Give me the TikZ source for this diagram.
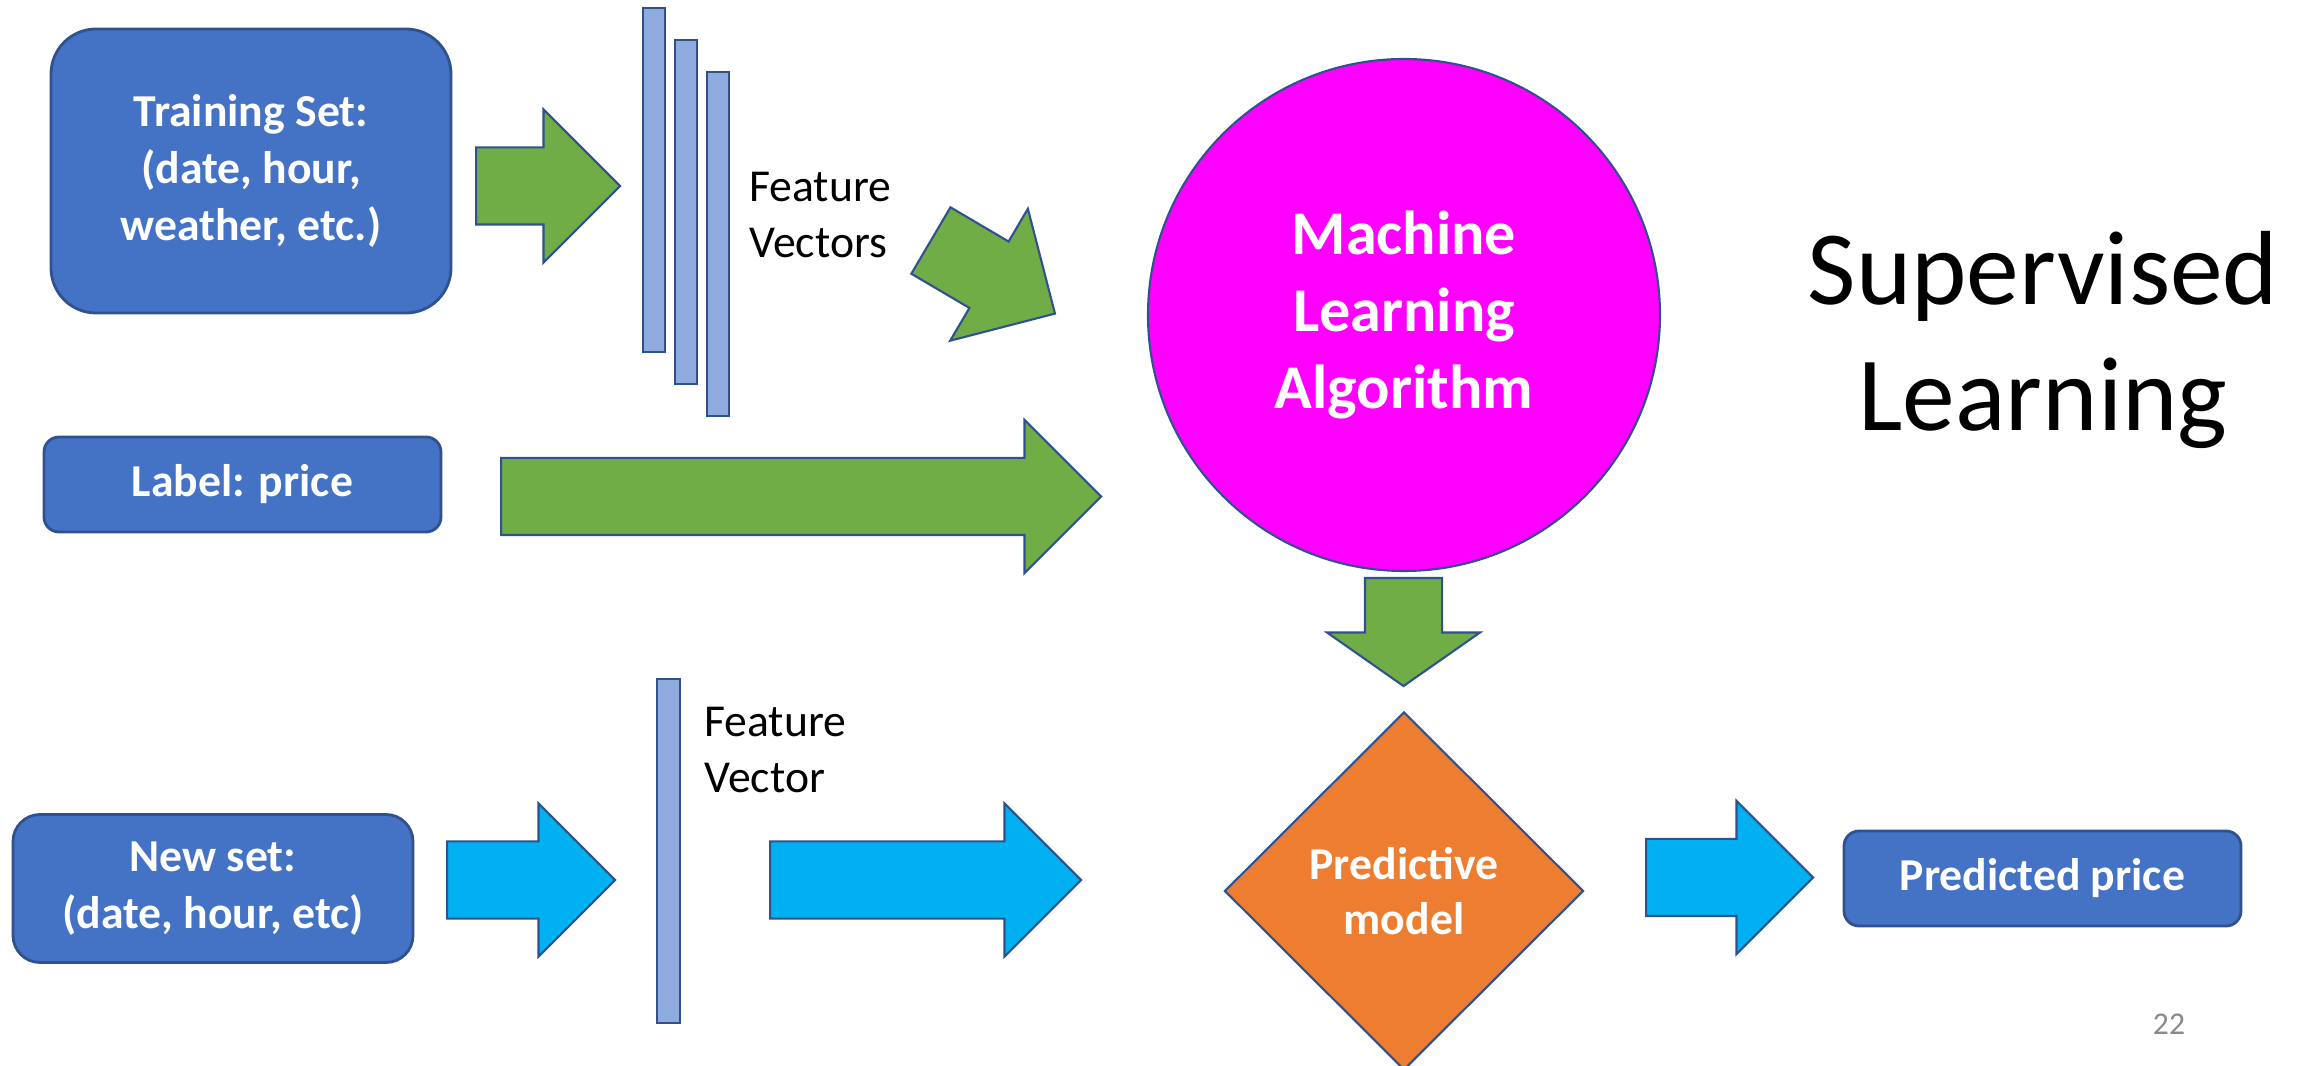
\documentclass[tikz,border=0pt]{standalone}
\usepackage{fontspec}
\setmainfont{Carlito}
\usepackage{xcolor}
\usetikzlibrary{shapes.geometric,shapes.arrows}

\definecolor{boxblue}{HTML}{4472C4}
\definecolor{edgeblue}{HTML}{2F528F}
\definecolor{barblue}{HTML}{8FAADC}
\definecolor{arrgreen}{HTML}{70AD47}
\definecolor{arrcyan}{HTML}{00B0F0}
\definecolor{mlpink}{HTML}{FF00FF}
\definecolor{modelorange}{HTML}{ED7D31}
\definecolor{pagegray}{HTML}{898989}

\begin{document}
\begin{tikzpicture}[
      databox/.style={rectangle, draw=edgeblue, line width=0.8pt, fill=boxblue, text=white, align=center, font=\fontsize{13}{16.2}\selectfont\bfseries},
      vecbar/.style={rectangle, draw=edgeblue, line width=0.8pt, fill=barblue, minimum width=0.22cm, inner sep=0pt},
      blockarrow/.style={single arrow, draw=edgeblue, line width=0.6pt, anchor=tail, inner xsep=0pt, inner ysep=0.375cm, single arrow head extend=0.38cm},
      greenarrow/.style={blockarrow, fill=arrgreen},
      cyanarrow/.style={blockarrow, fill=arrcyan},
      vectext/.style={anchor=west, align=left, font=\fontsize{13}{16.2}\selectfont}
    ]
      \useasboundingbox (0,0) rectangle (23.06,-10.66);

      % Training data
      \node[databox, rounded corners=0.45cm, minimum width=4cm, minimum height=2.84cm] (train) at (2.51,-1.71) {Training Set:\\(date, hour,\\weather, etc.)};
      \node[databox, rounded corners=0.15cm, minimum width=3.97cm, minimum height=0.95cm] (label) at (2.425,-4.845) {Label: price};

      % Feature vectors
      \node[vecbar, minimum height=3.44cm] (bar1) at (6.54,-1.80) {};
      \node[vecbar, minimum height=3.44cm] (bar2) at (6.86,-2.12) {};
      \node[vecbar, minimum height=3.44cm] (bar3) at (7.18,-2.44) {};
      \node[vectext] (vecs) at (7.37,-2.15) {Feature\\Vectors};

      % Learner
      \node[circle, draw=edgeblue, line width=0.6pt, fill=mlpink, minimum size=5.12cm, text=white, align=center, font=\fontsize{17.7}{21.8}\selectfont\bfseries] (mla) at (14.04,-3.15) {Machine\\Learning\\Algorithm};
      \node[align=center, font=\fontsize{30}{36}\selectfont] (title) at (20.43,-3.40) {Supervised\\Learning};

      % Training arrows
      \node[greenarrow, minimum height=1.44cm] (arrtrain) at (4.75,-1.86) {};
      \node[greenarrow, minimum height=1.44cm, rotate=-30.5] (arrvecs) at (9.30,-2.40) {};
      \node[greenarrow, minimum height=6cm] (arrlabel) at (5.00,-4.965) {};
      \node[greenarrow, minimum height=1.08cm, single arrow tip angle=110, rotate=-90] (arrmodel) at (14.035,-5.77) {};

      % Prediction
      \node[databox, rounded corners=0.27cm, minimum width=4cm, minimum height=1.48cm] (newset) at (2.13,-8.885) {New set:\\(date, hour, etc)};
      \node[vecbar, minimum width=0.23cm, minimum height=3.44cm] (bar4) at (6.685,-8.51) {};
      \node[vectext] (vec) at (6.92,-7.50) {Feature\\Vector};
      \node[diamond, draw=edgeblue, line width=0.6pt, fill=modelorange, minimum width=3.59cm, minimum height=3.58cm, inner sep=0pt, text=white, align=center, font=\fontsize{13}{15.8}\selectfont\bfseries] (model) at (14.04,-8.91) {Predictive\\model};
      \node[databox, rounded corners=0.15cm, minimum width=3.97cm, minimum height=0.95cm] (predicted) at (20.425,-8.785) {Predicted price};

      % Prediction arrows
      \node[cyanarrow, minimum height=1.68cm] (arrnew) at (4.46,-8.80) {};
      \node[cyanarrow, minimum height=3.11cm] (arrvec) at (7.69,-8.80) {};
      \node[cyanarrow, minimum height=1.67cm] (arrout) at (16.45,-8.775) {};

      % Slide number
      \node[text=pagegray, font=\fontsize{9}{11}\selectfont] (page) at (21.69,-10.24) {22};
\end{tikzpicture}
\end{document}
